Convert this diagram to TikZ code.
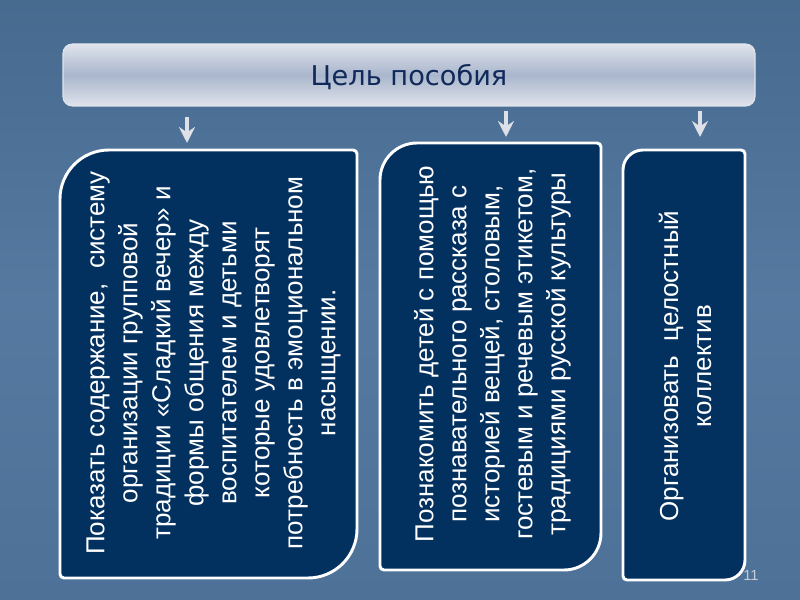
\documentclass[tikz,border=0pt]{standalone}
\usepackage{fontspec}
\setmainfont{Liberation Sans}
\newfontfamily\titlefont{DejaVu Sans}
\usetikzlibrary{arrows.meta}
\definecolor{bgtop}{HTML}{476A8F}
\definecolor{bgmid}{HTML}{5579A0}
\definecolor{bgbot}{HTML}{4D7197}
\definecolor{navy}{HTML}{02305F}
\definecolor{titletext}{HTML}{10295A}
\definecolor{tboxlight}{HTML}{DFE3EC}
\definecolor{tboxmid}{HTML}{A9B6CC}
\definecolor{arrowcol}{HTML}{DDE0E6}
\definecolor{pagenum}{HTML}{C5CDD8}
\begin{document}
\begin{tikzpicture}[x=0.75pt,y=0.75pt,
  leafbox/.style={fill=navy, draw=white, line width=2.2pt},
  boxtext/.style={rotate=90, align=center, text=white, inner sep=0pt,
    font=\fontsize{19.5}{24.75}\selectfont},
  titlebox/.style={rounded corners=7pt, draw=tboxlight, line width=0.8pt,
    top color=tboxlight, bottom color=tboxlight, middle color=tboxmid,
    minimum width=519pt, minimum height=46.5pt, inner sep=0pt},
  downarrow/.style={draw=arrowcol, line width=2.8pt,
    -{Stealth[length=12pt,width=12pt,inset=4pt]}},
]
\useasboundingbox (0,0) rectangle (800,600);
\shade[top color=bgtop, bottom color=bgbot, middle color=bgmid] (0,0) rectangle (800,600);

% title
\node[titlebox] (title) at (409,525) {};
\node[text=titletext, font=\titlefont\fontsize{20.4}{24}\selectfont, inner sep=0pt] (ttext) at (409,523) {Цель пособия};

% arrows
\coordinate (a1s) at (187,483);
\coordinate (a1e) at (187,457);
\coordinate (a2s) at (506,489);
\coordinate (a2e) at (506,463);
\coordinate (a3s) at (700,489);
\coordinate (a3e) at (700,463);
\draw[downarrow] (a1s) -- (a1e);
\draw[downarrow] (a2s) -- (a2e);
\draw[downarrow] (a3s) -- (a3e);

% boxes
\draw[leafbox] (60,401) arc[start angle=180,end angle=90,radius=36.75pt]
  -- (353,450) arc[start angle=90,end angle=0,radius=3pt]
  -- (357,71) arc[start angle=0,end angle=-90,radius=36.75pt]
  -- (64,22) arc[start angle=270,end angle=180,radius=3pt] -- cycle;
\draw[leafbox] (380,420) arc[start angle=180,end angle=90,radius=27.75pt]
  -- (597,457) arc[start angle=90,end angle=0,radius=3pt]
  -- (601,67) arc[start angle=0,end angle=-90,radius=27.75pt]
  -- (384,30) arc[start angle=270,end angle=180,radius=3pt] -- cycle;
\draw[leafbox] (623,430) arc[start angle=180,end angle=90,radius=15pt]
  -- (741,450) arc[start angle=90,end angle=0,radius=3pt]
  -- (745,40) arc[start angle=0,end angle=-90,radius=15pt]
  -- (627,20) arc[start angle=270,end angle=180,radius=3pt] -- cycle;

\node[boxtext] (t1) at (213.5,237) {Показать содержание,~ систему\\ организации групповой\\ традиции «Сладкий вечер» и\\ формы общения между\\ воспитателем и детьми\\ которые удовлетворят\\ потребность в эмоциональном\\ насыщении.};
\node[boxtext] (t2) at (492.5,246) {Познакомить детей с помощью\\ познавательного рассказа с\\ историей вещей, столовым,\\ гостевым и речевым этикетом,\\ традициями русской культуры};
\node[boxtext] (t3) at (685,234) {Организовать~ целостный\\ коллектив};

\node[text=pagenum, font=\fontsize{11}{12}\selectfont, inner sep=0pt] (pg) at (751,25) {11};
\end{tikzpicture}
\end{document}
